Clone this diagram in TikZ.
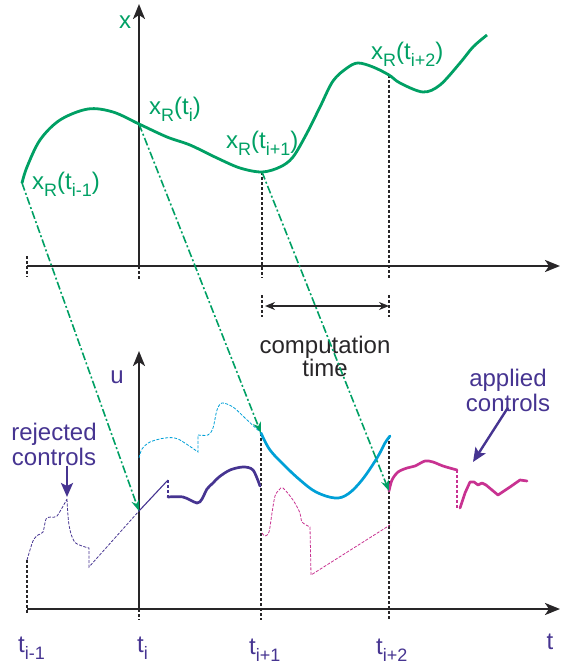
\documentclass[tikz,border=0pt]{standalone}
\usepackage{fontspec}
\setmainfont{Liberation Sans}
\usepackage{xcolor}
\usetikzlibrary{arrows.meta}

\definecolor{refgreen}{RGB}{0,160,100}
\definecolor{ctrlblue}{RGB}{70,52,145}
\definecolor{ctrlcyan}{RGB}{0,160,215}
\definecolor{ctrlpink}{RGB}{200,50,145}
\definecolor{axisgray}{RGB}{40,38,40}

\newcommand{\lowtext}[1]{\raisebox{-0.28em}{\fontsize{18}{18}\selectfont #1}}

\begin{document}
\begin{tikzpicture}[
    x=1pt,y=-1pt,
    axis/.style={line width=2.4pt, axisgray, -{Stealth[length=15pt,width=12pt,inset=4pt]}},
    tickline/.style={axisgray, line width=1.3pt, dash pattern=on 3pt off 2pt},
    refcurve/.style={refgreen, line width=2.8pt},
    proj/.style={refgreen, line width=1.6pt, dash pattern=on 8pt off 2.5pt on 2pt off 2.5pt,
                 -{Stealth[length=11pt,width=8pt]}},
    applied/.style={line width=2.7pt, line join=round, line cap=round},
    rejected/.style={line width=0.8pt, dash pattern=on 3pt off 1.5pt},
    lbl/.style={font=\fontsize{24}{25}\selectfont, inner sep=0pt},
    note/.style={-{Stealth[length=14pt,width=12pt,inset=3pt]}, line width=2.4pt, ctrlblue}
]
\useasboundingbox (0,0) rectangle (561,666);

\coordinate (xo) at (139,266);
\coordinate (xend) at (560,266);
\coordinate (xtop) at (139,4);
\coordinate (uo) at (139,609);
\coordinate (uend) at (560,609);
\coordinate (utop) at (139,351);

\coordinate (xprev) at (22,183);
\coordinate (xi) at (139,124);
\coordinate (xnext) at (262,172);
\coordinate (xnext2) at (389,75);
\coordinate (ui) at (139,511);
\coordinate (unext) at (261,433);
\coordinate (unext2) at (389,491);

\draw[axis] (27,266) -- (xend);
\draw[axis] (xo) -- (xtop);
\draw[axis] (27,609) -- (uend);
\draw[axis] (uo) -- (utop);

\draw[tickline] (27,256) -- (27,277);
\draw[tickline] (xo) -- (139,280);
\draw[tickline] (xnext) -- (262,278);
\draw[tickline] (xnext2) -- (389,278);
\draw[tickline] (27,560) -- (27,614);
\draw[tickline] (uo) -- (139,620);
\draw[tickline] (unext) -- (261,620);
\draw[tickline] (389,436) -- (389,620);

\draw[refcurve] plot[smooth, tension=0.55] coordinates {(xprev) (27,167) (40,140) (60,120) (88,109)
  (113,112) (xi) (167,137) (190,145) (217,158) (240,168) (xnext) (280,167) (293,157) (307,133)
  (320,107) (333,81) (347,68) (358,63) (373,67) (xnext2) (400,83) (423,92) (440,85) (460,63)
  (473,47) (487,35)};

\node[lbl, refgreen] (xlabel) at (125,22) {x};
\node[lbl, refgreen, anchor=west] (lprev) at (32,184) {x\lowtext{R}(t\lowtext{i-1})};
\node[lbl, refgreen, anchor=west] (li) at (149,109) {x\lowtext{R}(t\lowtext{i})};
\node[lbl, refgreen, anchor=west] (lnext) at (226,143) {x\lowtext{R}(t\lowtext{i+1})};
\node[lbl, refgreen, anchor=west] (lnext2) at (371,54) {x\lowtext{R}(t\lowtext{i+2})};

\coordinate (cs) at (262,306);
\coordinate (ce) at (389,306);
\draw[tickline] (262,295) -- (262,317);
\draw[tickline] (389,295) -- (389,317);
\draw[axisgray, line width=1.5pt, {Stealth[length=10pt,width=8pt]}-{Stealth[length=10pt,width=8pt]},
  shorten <=3pt] (cs) -- (ce);
\node[lbl, axisgray, align=center, font=\fontsize{24}{23}\selectfont] (comp) at (325,356) {computation\\time};

\draw[rejected, ctrlblue] plot[smooth, tension=0.5] coordinates {(27,560) (33,541) (38,535) (43,532)
  (46,519) (51,517) (57,516) (67,499)} plot[smooth, tension=0.6] coordinates {(67,499) (69,525)
  (74,541) (82,546) (89,548)} -- (89,567) -- (ui);
\draw[ctrlblue, line width=1.1pt] (ui) -- (168,480);
\draw[ctrlblue, line width=1.1pt, dash pattern=on 3pt off 2pt] (168,480) -- (168,497);
\draw[applied, ctrlblue] plot[smooth, tension=0.5] coordinates {(168,497) (183,497) (197,503)
  (202,499) (207,489) (213,483) (219,477) (230,470) (243,467) (253,470) (260,486)};

\draw[rejected, ctrlcyan] plot[smooth, tension=0.5] coordinates {(139,458) (142,449) (150,442)
  (165,438) (178,439) (198,452)} -- (198,435) plot[smooth, tension=0.5] coordinates {(198,435)
  (208,435) (213,428) (217,410) (222,403) (233,407) (245,418) (unext)};
\draw[applied, ctrlcyan] plot[smooth, tension=0.6] coordinates {(unext) (270,450) (285,466)
  (300,480) (316,492) (335,498) (348,494) (362,480) (377,458) (385,443) (390,436)};

\draw[rejected, ctrlpink] plot[smooth, tension=0.5] coordinates {(262,533) (265,536) (269,532)
  (272,513) (275,496) (279,490) (283,488) (293,500) (300,513) (302,522) (310,527)} -- (311,575)
  -- (390,525);
\draw[applied, ctrlpink] plot[smooth, tension=0.5] coordinates {(unext2) (392,480) (398,472)
  (407,468) (415,466) (425,461) (433,462) (443,466) (457,470)};
\draw[ctrlpink, line width=1.3pt, dash pattern=on 3pt off 2pt] (457,470) -- (457,508);
\draw[applied, ctrlpink] (460,508) -- (465,493) -- (470,482) -- (474,482) -- (478,485) -- (482,483)
  -- (486,485) -- (498,495) -- (510,487) -- (520,480) -- (527,481);

\draw[proj] (xprev) -- (ui);
\draw[proj] (xi) -- (unext);
\draw[proj] (xnext) -- (unext2);

\node[lbl, ctrlblue] (ulabel) at (117,377) {u};
\node[lbl, ctrlblue, align=center] (rej) at (54,444) {rejected\\controls};
\coordinate (rejtip) at (67,497);
\draw[note] ([xshift=13pt]rej.south) -- (rejtip);
\node[lbl, ctrlblue, align=center] (app) at (508,390) {applied\\controls};
\coordinate (apptip) at (473,462);
\draw[note] ([yshift=4pt]app.south) -- (apptip);

\node[lbl, ctrlblue, anchor=west] (tprev) at (18,648) {t\lowtext{i-1}};
\node[lbl, ctrlblue, anchor=west] (tcur) at (137,648) {t\lowtext{i}};
\node[lbl, ctrlblue, anchor=west] (tnext) at (249,650) {t\lowtext{i+1}};
\node[lbl, ctrlblue, anchor=west] (tnext2) at (376,650) {t\lowtext{i+2}};
\node[lbl, ctrlblue] (tlabel) at (550,642) {t};
\end{tikzpicture}
\end{document}
